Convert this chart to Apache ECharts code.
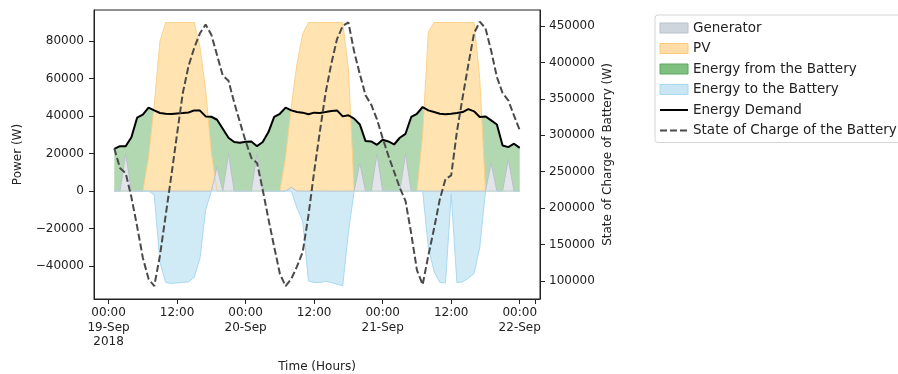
<!DOCTYPE html>
<html>
<head>
<meta charset="utf-8">
<script src="https://cdn.jsdelivr.net/npm/echarts@6/dist/echarts.min.js"></script>
<style>
html, body { margin: 0; padding: 0; background: #fff; }
#chart { width: 898px; height: 374px; }
</style>
</head>
<body>
<div id="chart"></div>
<script>
// hours since 19-Sep-2018 00:00, one reading per hour
const hours = Array.from({length: 72}, (_, i) => i + 1);

const demand = [
  22600, 24000, 24000, 28800, 39200, 40800, 44600, 43100, 41700, 41300, 41200, 41500,
  41700, 42000, 43100, 43000, 39900, 39700, 38100, 33300, 28500, 26200, 25800, 26300,
  26500, 24000, 26200, 31500, 39600, 41300, 44600, 43100, 42200, 41900, 41000, 41900,
  41700, 42200, 42800, 43100, 39900, 40500, 38700, 35600, 26700, 26500, 24700, 27400,
  26500, 24900, 28500, 30600, 39600, 41300, 44900, 43100, 42200, 41300, 41000, 41300,
  41700, 42200, 43800, 42600, 39600, 39900, 37800, 35600, 24400, 23500, 25300, 23100
];

const pv = [
  0, 0, 0, 0, 0, 0, 18000, 46000, 80000, 90000, 90000, 90000,
  90000, 90000, 90000, 77000, 54000, 20000, 0, 0, 0, 0, 0, 0,
  0, 0, 0, 0, 0, 0, 18000, 45000, 68000, 84000, 90000, 90000,
  90000, 90000, 90000, 90000, 90000, 65000, 0, 0, 0, 0, 0, 0,
  0, 0, 0, 0, 0, 0, 30000, 85000, 90000, 90000, 90000, 90000,
  90000, 90000, 90000, 90000, 60000, 0, 0, 0, 0, 0, 0, 0
];

const generator = [
  0, 0, 20000, 0, 0, 0, 0, 0, 0, 0, 0, 0,
  0, 0, 0, 0, 0, 0, 13000, 0, 20000, 0, 0, 0,
  0, 20000, 0, 0, 0, 0, 0, 2000, 0, 0, 0, 0,
  0, 0, 0, 0, 0, 0, 0, 15000, 0, 0, 20000, 0,
  0, 0, 0, 20000, 0, 0, 0, 0, 0, 0, 0, 0,
  0, 0, 0, 0, 0, 0, 15000, 0, 0, 17000, 0, 0
];

const toBattery = [
  0, 0, 0, 0, 0, 0, 0, -2000, -38000, -48800, -49300, -49000,
  -48800, -48500, -46000, -36000, -10000, 0, 0, 0, 0, 0, 0, 0,
  0, 0, 0, 0, 0, 0, 0, 0, -9000, -16000, -48000, -48800,
  -48800, -48200, -48800, -49700, -50600, -22000, 0, 0, 0, 0, 0, 0,
  0, 0, 0, 0, 0, 0, 0, -30000, -43000, -48800, -49000, -1500,
  -48800, -48500, -46500, -44000, -30000, 0, 0, 0, 0, 0, 0, 0
];

const soc = [
  282000, 255000, 248000, 215000, 175000, 132000, 103000, 93000, 135000, 190000, 245000, 302000,
  358000, 395000, 420000, 440000, 452000, 438000, 410000, 382000, 375000, 345000, 318000, 292000,
  269000, 262000, 225000, 185000, 147000, 110000, 93000, 103000, 120000, 140000, 190000, 250000,
  305000, 358000, 398000, 432000, 450000, 455000, 415000, 384000, 355000, 342000, 322000, 296000,
  272000, 250000, 228000, 210000, 165000, 115000, 95000, 135000, 172000, 212000, 240000, 245000,
  305000, 352000, 397000, 440000, 456000, 447000, 416000, 380000, 358000, 348000, 327000, 307000
];

const tickHours = [0, 12, 24, 36, 48, 60, 72];
const tickLabels = ['00:00\n19-Sep\n2018', '12:00', '00:00\n20-Sep', '12:00', '00:00\n21-Sep', '12:00', '00:00\n22-Sep'];
const powerTicks = [-40000, -20000, 0, 20000, 40000, 60000, 80000];
const socTicks = [100000, 150000, 200000, 250000, 300000, 350000, 400000, 450000];

const pair = arr => hours.map((h, i) => [h, arr[i]]);
const font = 'DejaVu Sans';
const ink = '#222';
const hidden = {color: 'rgba(0,0,0,0)', borderColor: 'rgba(0,0,0,0)', borderWidth: 0};

const chart = echarts.init(document.getElementById('chart'), null, {renderer: 'canvas'});
chart.setOption({
  animation: false,
  textStyle: {fontFamily: font},
  grid: {
    left: 94, right: 358, top: 10, bottom: 75,
    outerBoundsMode: 'none', containLabel: false,
    show: true, borderColor: ink, borderWidth: 1
  },
  legend: {
    orient: 'vertical',
    left: 655,
    top: 15,
    padding: [6, 24, 5, 4],
    itemWidth: 28,
    itemHeight: 10,
    itemGap: 6.5,
    borderColor: '#d5d5d5',
    borderWidth: 1,
    borderRadius: 3,
    textStyle: {fontSize: 13.5, fontFamily: font, color: ink},
    data: [
      {name: 'Generator', icon: 'rect', itemStyle: {color: '#cfd5dc', borderColor: '#b9c1c9', borderWidth: 1}},
      {name: 'PV', icon: 'rect', itemStyle: {color: '#fedda8', borderColor: '#fcc97a', borderWidth: 1}},
      {name: 'Energy from the Battery', icon: 'rect', itemStyle: {color: '#7fbf7f', borderColor: '#5fa85f', borderWidth: 1}},
      {name: 'Energy to the Battery', icon: 'rect', itemStyle: {color: '#c8e6f4', borderColor: '#a9d9ef', borderWidth: 1}},
      {name: 'Energy Demand', itemStyle: hidden},
      {name: 'State of Charge of the Battery', itemStyle: hidden}
    ]
  },
  xAxis: {
    type: 'value',
    min: -2.55,
    max: 75.55,
    axisLine: {show: true, onZero: false, lineStyle: {color: ink}},
    axisTick: {show: true, length: 5, lineStyle: {color: ink}, customValues: tickHours.concat([74.8])},
    axisLabel: {
      customValues: tickHours,
      formatter: v => tickLabels[tickHours.indexOf(v)] || '',
      fontSize: 12, lineHeight: 14.5, color: ink, margin: 7, verticalAlign: 'top'
    },
    splitLine: {show: false},
    name: 'Time (Hours)',
    nameLocation: 'middle',
    nameGap: 62,
    nameTextStyle: {fontSize: 12, color: ink}
  },
  yAxis: [
    {
      type: 'value',
      position: 'left',
      min: -57600,
      max: 96700,
      axisLine: {show: true, onZero: false, lineStyle: {color: ink}},
      axisTick: {show: true, length: 5, lineStyle: {color: ink}, customValues: powerTicks},
      axisLabel: {customValues: powerTicks, formatter: v => String(v).replace('-', '\u2212'), fontSize: 12, color: ink, margin: 10},
      splitLine: {show: false},
      name: 'Power (W)',
      nameLocation: 'middle',
      nameRotate: 90,
      nameGap: 70,
      nameTextStyle: {fontSize: 12, color: ink}
    },
    {
      type: 'value',
      position: 'right',
      min: 75300,
      max: 472000,
      axisLine: {show: true, onZero: false, lineStyle: {color: ink}},
      axisTick: {show: true, length: 5, lineStyle: {color: ink}, customValues: socTicks},
      axisLabel: {customValues: socTicks, formatter: v => String(v), fontSize: 12, color: ink, margin: 9},
      splitLine: {show: false},
      name: 'State of Charge of Battery (W)',
      nameLocation: 'middle',
      nameRotate: 90,
      nameGap: 62,
      nameTextStyle: {fontSize: 12, color: ink}
    }
  ],
  series: [
    {
      name: 'Energy from the Battery', type: 'line', data: pair(demand), symbol: 'none',
      itemStyle: {color: '#7fbf7f'},
      lineStyle: {width: 0}, areaStyle: {color: '#b1d8b1', opacity: 1}
    },
    {
      name: 'PV', type: 'line', data: pair(pv), symbol: 'none',
      itemStyle: {color: '#fedda8'},
      lineStyle: {color: '#fcd08a', width: 1}, areaStyle: {color: '#ffe4b2', opacity: 1}
    },
    {
      name: 'Generator', type: 'line', data: pair(generator), symbol: 'none',
      itemStyle: {color: '#cfd5dc'},
      lineStyle: {color: '#b9c1c9', width: 1}, areaStyle: {color: '#e1e5e9', opacity: 1}
    },
    {
      name: 'Energy to the Battery', type: 'line', data: pair(toBattery), symbol: 'none',
      itemStyle: {color: '#c8e6f4'},
      lineStyle: {color: '#a9d9ef', width: 1}, areaStyle: {color: '#d0eaf6', opacity: 1}
    },
    {
      name: 'Energy Demand', type: 'line', data: pair(demand), symbol: 'none',
      itemStyle: {color: '#000'},
      lineStyle: {color: '#000', width: 2}
    },
    {
      name: 'State of Charge of the Battery', type: 'line', yAxisIndex: 1, data: pair(soc), symbol: 'none',
      itemStyle: {color: '#4a4a4a'},
      lineStyle: {color: '#4a4a4a', width: 2, type: [7, 3]}
    }
  ]
});
</script>
</body>
</html>
